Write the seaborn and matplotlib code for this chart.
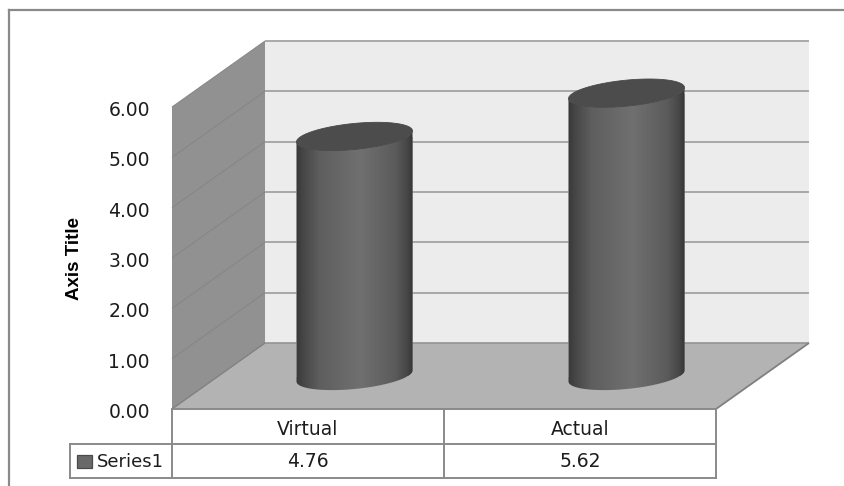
import numpy as np
import pandas as pd
import matplotlib
matplotlib.use("Agg")
import matplotlib.pyplot as plt
from matplotlib.colors import LinearSegmentedColormap
from matplotlib.lines import Line2D
from matplotlib.patches import PathPatch, Polygon, Rectangle
from matplotlib.path import Path
from matplotlib.ticker import FormatStrFormatter
from matplotlib.transforms import Affine2D, IdentityTransform
import seaborn as sns

categories = ["Virtual", "Actual"]
values = [4.76, 5.62]
series_name = "Series1"
y_ticks = [0, 1, 2, 3, 4, 5, 6]
y_title = "Axis Title"

WIDTH, HEIGHT = 845, 486
DEPTH_X, DEPTH_Y = 93, 66
PLOT_LEFT, PLOT_RIGHT, PLOT_TOP, PLOT_BOTTOM = 172, 716, 107, 409
LINE = "#8a8a8a"
TEXT = "#1c1c1c"

sns.set_style("white")
plt.rcParams["font.family"] = ["DejaVu Sans"]

fig = plt.figure(figsize=(WIDTH / 100, HEIGHT / 100), dpi=100, facecolor="white")
ax = fig.add_axes([
    PLOT_LEFT / WIDTH,
    1 - PLOT_BOTTOM / HEIGHT,
    (PLOT_RIGHT - PLOT_LEFT) / WIDTH,
    (PLOT_BOTTOM - PLOT_TOP) / HEIGHT,
])
frame = pd.DataFrame({"category": categories, "value": values})
sns.barplot(data=frame, x="category", y="value", width=0.4265, color="#696969",
            ax=ax, zorder=5)
ax.set_xlim(-0.5, 1.5)
ax.set_ylim(0, 6)
ax.set_autoscale_on(False)
ax.patch.set_visible(False)
sns.despine(ax=ax, left=True, bottom=True)
ax.set_xlabel("")
ax.set_yticks(y_ticks)
ax.yaxis.set_major_formatter(FormatStrFormatter("%.2f"))
ax.tick_params(axis="y", length=0, pad=16, labelsize=13.5, labelcolor=TEXT)
ax.tick_params(axis="x", length=0, pad=8, labelsize=13.5, labelcolor=TEXT)
ax.set_ylabel(y_title, fontsize=13.5, fontweight="bold", color="black",
              family="Liberation Sans")
ax.yaxis.set_label_coords((83 - PLOT_LEFT) / (PLOT_RIGHT - PLOT_LEFT), 0.498)

# Value labels sit a little below their gridline ends
for tick in ax.yaxis.get_major_ticks():
    tick.label1.set_transform(tick.label1.get_transform() + Affine2D().translate(0, -1.5))

display = IdentityTransform()
xlo, xhi = ax.get_xlim()


def project(x, v, frac=0.0):
    """Data point pushed back into the chart's depth, in display pixels."""
    px, py = ax.transData.transform((x, v))
    return px + DEPTH_X * frac, py + DEPTH_Y * frac


def face(points, color, z, edge="none", lw=0):
    ax.add_patch(Polygon(points, closed=True, facecolor=color, edgecolor=edge,
                         linewidth=lw, transform=display, clip_on=False, zorder=z))


def rule(p, q, color, lw, z):
    ax.add_line(Line2D([p[0], q[0]], [p[1], q[1]], color=color, linewidth=lw,
                       transform=display, clip_on=False, zorder=z,
                       solid_capstyle="butt"))


# Box walls and floor
top, bottom = y_ticks[-1], y_ticks[0]
face([project(xlo, bottom), project(xlo, top), project(xlo, top, 1), project(xlo, bottom, 1)],
     "#919191", 1)
face([project(xlo, bottom, 1), project(xlo, top, 1), project(xhi, top, 1), project(xhi, bottom, 1)],
     "#ececec", 1)
face([project(xlo, bottom), project(xlo, bottom, 1), project(xhi, bottom, 1), project(xhi, bottom)],
     "#b3b3b3", 2)

for v in y_ticks:
    if v > bottom:
        rule(project(xlo, v), project(xlo, v, 1), "#858585", 0.7, 3)
        rule(project(xlo, v, 1), project(xhi, v, 1), "#a2a2a2", 1.3, 3)
rule(project(xlo, bottom), project(xlo, bottom, 1), "#808080", 1.0, 3)
rule(project(xlo, bottom, 1), project(xhi, bottom, 1), "#949494", 1.2, 3)
rule(project(xhi, bottom), project(xhi, bottom, 1), "#808080", 1.3, 3)

# Cylinders: the seaborn bars give each one's centre, width and height
shade = LinearSegmentedColormap.from_list("cylinder", [
    (0.00, "#383838"), (0.05, "#444444"), (0.20, "#5e5e5e"), (0.55, "#707070"),
    (0.85, "#5b5b5b"), (0.95, "#474747"), (1.00, "#363636"),
])
gradient = np.linspace(0, 1, 256).reshape(1, -1)
units_per_px = 6 / (PLOT_BOTTOM - PLOT_TOP)
semi_minor = 13 * units_per_px
tilt = 5.5 * units_per_px
half_depth = Affine2D().translate(DEPTH_X / 2, DEPTH_Y / 2)
to_display = ax.transData + half_depth
lower = np.linspace(np.pi, 2 * np.pi, 60)
whole = np.linspace(0, 2 * np.pi, 120)

for bar in list(ax.patches):
    if not isinstance(bar, Rectangle) or bar.get_height() == 0:
        continue
    x0, w, h = bar.get_x(), bar.get_width(), bar.get_height()
    cx, a = x0 + w / 2, w / 2

    foot_x = cx + a * np.cos(lower)
    foot_y = tilt * np.cos(lower) + semi_minor * np.sin(lower)
    outline = np.vstack([
        np.column_stack([foot_x, foot_y]),
        np.column_stack([foot_x[::-1], h + foot_y[::-1]]),
    ])
    body = PathPatch(Path(np.vstack([outline, outline[:1]])), transform=to_display,
                     facecolor="none", edgecolor="none")
    ax.add_patch(body)

    bar.set_transform(to_display)
    bar.set_clip_box(None)
    bar.set_clip_path(body)

    im = ax.imshow(gradient, cmap=shade, vmin=0, vmax=1, aspect="auto",
                   extent=(x0, x0 + w, -3 * semi_minor, h + 3 * semi_minor),
                   interpolation="bilinear", zorder=6)
    im.set_transform(to_display)
    im.set_clip_box(fig.bbox)
    im.set_clip_path(body)

    cap = np.column_stack([cx + a * np.cos(whole),
                           h + tilt * np.cos(whole) + semi_minor * np.sin(whole)])
    ax.add_patch(Polygon(cap, closed=True, facecolor="#4c4c4c", edgecolor="#484848",
                         linewidth=0.6, transform=to_display, clip_on=False, zorder=7))

ax.set_xlim(xlo, xhi)
ax.set_ylim(0, 6)

# Data table, outer frame: laid out in pixels measured from the top left
from_top = Affine2D().scale(1, -1).translate(0, HEIGHT)


def chrome_line(xs, ys, color=LINE, lw=1.4):
    fig.add_artist(Line2D(xs, ys, color=color, linewidth=lw, transform=from_top,
                          solid_capstyle="projecting", zorder=8))


chrome_line([9, 9], [HEIGHT, 10], lw=1.6)
chrome_line([9, WIDTH], [10, 10], lw=1.6)

ROW_HEAD, ROW_DATA, ROW_END = PLOT_BOTTOM, 444, 478
KEY_LEFT = 70
mid_x = (PLOT_LEFT + PLOT_RIGHT) / 2
chrome_line([PLOT_LEFT, PLOT_RIGHT], [ROW_HEAD, ROW_HEAD])
chrome_line([KEY_LEFT, PLOT_RIGHT], [ROW_DATA, ROW_DATA])
chrome_line([KEY_LEFT, PLOT_RIGHT], [ROW_END, ROW_END])
chrome_line([KEY_LEFT, KEY_LEFT], [ROW_DATA, ROW_END])
for x in (PLOT_LEFT, mid_x, PLOT_RIGHT):
    chrome_line([x, x], [ROW_HEAD, ROW_END])

fig.add_artist(Rectangle((77, 455), 15, 13, facecolor="#696969", edgecolor="#4a4a4a",
                         linewidth=0.9, transform=from_top))
fig.text(97, 460, series_name, transform=from_top, ha="left", va="center_baseline",
         fontsize=13, color=TEXT)
for i, v in enumerate(values):
    px, _ = ax.transData.transform((i, 0))
    fig.text(px, 459.5, f"{v:.2f}", transform=from_top, ha="center", va="center_baseline",
             fontsize=13.5, color=TEXT)

fig.savefig("out.png", dpi=100, facecolor="white")
